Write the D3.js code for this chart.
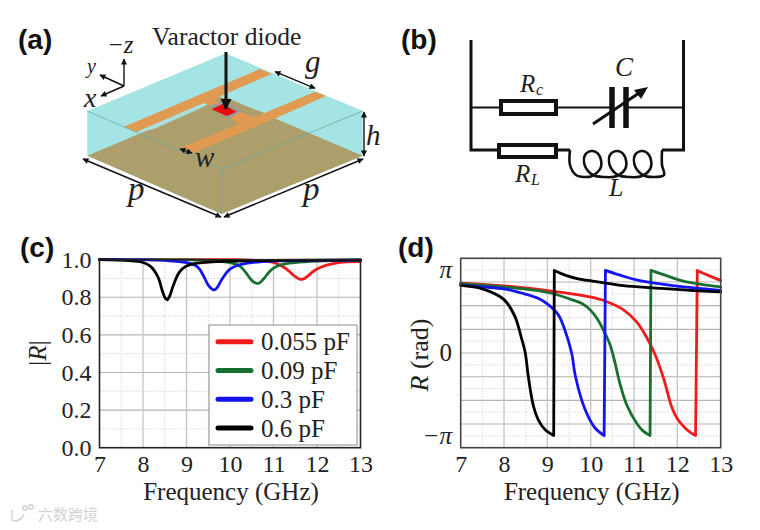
<!DOCTYPE html>
<html><head><meta charset="utf-8">
<script src="https://cdn.jsdelivr.net/npm/d3@7"></script>
<style>html,body{margin:0;padding:0;background:#fff}svg{display:block}
text{font-family:"Liberation Serif",serif;fill:#222}
.plabel{font-family:"Liberation Sans",sans-serif;font-weight:bold;font-size:28px;fill:#111}
.it{font-style:italic}</style></head><body><svg id="c" width="760" height="530"></svg>
<script>
// ---- data ----
const legendLabels = ["0.055 pF","0.09 pF","0.3 pF","0.6 pF"];
const seriesColors = ["#f01c1c","#17702f","#1414f0","#000000"];
const xTicks = [7,8,9,10,11,12,13];
const magTicks = [0,0.2,0.4,0.6,0.8,1];
const redFreqC   = [7,10,10.5,11,11.2,11.3,11.4,11.5,11.6,11.65,11.7,11.8,11.9,12,12.2,12.5,13];
const redMag     = [1,1,.997,.985,.965,.95,.93,.91,.897,.896,.899,.915,.935,.95,.97,.985,.99];
const greenFreqC = [7,9,9.5,10,10.2,10.3,10.4,10.5,10.6,10.65,10.7,10.8,10.9,11,11.2,11.5,12,13];
const greenMag   = [1,.999,.996,.985,.97,.95,.92,.89,.875,.874,.88,.905,.935,.955,.975,.985,.993,.998];
const blueFreqC  = [7,8,8.5,9,9.2,9.3,9.4,9.5,9.6,9.65,9.7,9.8,9.9,10,10.2,10.5,11,13];
const blueMag    = [1,.999,.996,.985,.97,.95,.91,.865,.842,.84,.85,.89,.925,.95,.972,.985,.993,.998];
const blackFreqC = [7,7.5,7.8,8,8.15,8.25,8.35,8.45,8.5,8.55,8.6,8.7,8.8,8.9,9,9.2,9.5,10,11,13];
const blackMag   = [1,.998,.993,.985,.968,.945,.905,.83,.80,.786,.80,.865,.92,.95,.966,.98,.987,.992,.996,.999];
const redFreqD   = [7,8,9.02,9.98,10.36,10.75,11.05,11.28,11.48,11.68,11.87,12,12.15,12.3,12.42,12.46,12.7,13];
const redPhase   = [2.66,2.55,2.37,2.13,1.96,1.65,1.2,.63,-.04,-.95,-2.05,-2.5,-2.8,-3.02,-3.14,3.14,2.96,2.76];
const greenFreqD = [7,8,9.02,9.56,9.8,10,10.15,10.3,10.45,10.55,10.68,10.83,11.06,11.2,11.37,11.39,11.68,12.14,13];
const greenPhase = [2.64,2.51,2.3,2.03,1.88,1.62,1.3,.85,.3,-.3,-1.2,-1.97,-2.67,-2.95,-3.14,3.14,2.98,2.73,2.51];
const blueFreqD  = [7,7.5,8,8.4,8.8,9.02,9.25,9.4,9.56,9.64,9.79,9.94,10.1,10.31,10.34,10.75,11.13,11.9,13];
const bluePhase  = [2.58,2.51,2.44,2.28,2.07,1.84,1.46,.89,0,-.83,-1.78,-2.41,-2.85,-3.14,3.14,2.92,2.75,2.56,2.38];
const blackFreqD = [7,7.5,8,8.25,8.4,8.49,8.56,8.68,8.79,8.95,9.146,9.16,9.48,9.71,9.98,10.75,11.52,12.3,13];
const blackPhase = [2.57,2.44,2.03,1.39,.58,0,-.89,-2.03,-2.54,-2.92,-3.14,3.14,2.92,2.82,2.75,2.56,2.47,2.38,2.32];

const svg = d3.select("#c");
const defs = svg.append("defs");
defs.append("marker").attr("id","ah").attr("viewBox","0 0 10 10").attr("refX",9).attr("refY",5)
  .attr("markerWidth",7).attr("markerHeight",6).attr("markerUnits","userSpaceOnUse")
  .attr("orient","auto-start-reverse").append("path").attr("d","M0,0L10,5L0,10Z").attr("fill","#111");
defs.append("marker").attr("id","ahBig").attr("viewBox","0 0 10 10").attr("refX",9).attr("refY",5)
  .attr("markerWidth",11).attr("markerHeight",11).attr("markerUnits","userSpaceOnUse")
  .attr("orient","auto").append("path").attr("d","M0,0L10,5L0,10Z").attr("fill","#111");

// ---- chart panels ----
function panel(x0,x1,yTop,yBot,yScale,hMajor,hMinor,series){
  const x=d3.scaleLinear().domain([7,13]).range([x0,x1]);
  const g=svg.append("g");
  const vline=(v,c,w,dash)=>g.append("line").attr("x1",x(v)).attr("x2",x(v)).attr("y1",yTop).attr("y2",yBot)
     .attr("stroke",c).attr("stroke-width",w).attr("stroke-dasharray",dash||null);
  const hline=(v,c,w,dash)=>g.append("line").attr("x1",x0).attr("x2",x1).attr("y1",yScale(v)).attr("y2",yScale(v))
     .attr("stroke",c).attr("stroke-width",w).attr("stroke-dasharray",dash||null);
  hMinor.forEach(v=>hline(v,"#d8d8d8",1,"1.5 1.5"));
  d3.range(7.5,13,1).forEach(v=>vline(v,"#d8d8d8",1,"1.5 1.5"));
  hMajor.forEach(v=>hline(v,"#b5b5b5",1.1));
  d3.range(8,13,1).forEach(v=>vline(v,"#c4c4c4",1.3));
  const ax=d3.axisBottom(x).tickValues(xTicks).tickSize(0).tickFormat(d3.format("d"));
  const gx=g.append("g").attr("transform",`translate(0,${yBot})`).call(ax);
  gx.select(".domain").remove();
  gx.selectAll("text").attr("font-size",24).attr("dy",0).attr("y",24.5).attr("fill","#222");
  g.append("text").attr("x",(x0+x1)/2+1).attr("y",500).attr("text-anchor","middle").attr("font-size",25).text("Frequency (GHz)");
  const line=d3.line().x(d=>x(d[0])).y(d=>yScale(d[1])).curve(d3.curveCatmullRom.alpha(.5));
  // a phase wrap is drawn as a straight jump between two smooth runs
  const pathFor=s=>{
    const pts=d3.zip(s[0],s[1]);
    const i=pts.findIndex((p,k)=>k>0&&p[1]-pts[k-1][1]>3);
    if(i<0) return line(pts);
    return line(pts.slice(0,i))+"L"+line(pts.slice(i)).slice(1);
  };
  return {x,g,draw(){series.forEach((s,i)=>g.append("path").attr("d",pathFor(s))
      .attr("fill","none").attr("stroke",seriesColors[i]).attr("stroke-width",2.8).attr("stroke-linejoin","round").attr("stroke-linecap","round"));},
    frame(c){g.append("rect").attr("x",x0).attr("y",yTop).attr("width",x1-x0).attr("height",yBot-yTop).attr("fill","none").attr("stroke",c).attr("stroke-width",1.6);}};
}
// (c)
const yMag=d3.scaleLinear().domain([0,1]).range([447.7,259.7]);
const pc=panel(99.5,360.5,259.7,447.7,yMag,[.2,.4,.6,.8],[.1,.3,.5,.7,.9],
  [[redFreqC,redMag],[greenFreqC,greenMag],[blueFreqC,blueMag],[blackFreqC,blackMag]]);
pc.draw(); pc.frame("#222");
const axL=d3.axisLeft(yMag).tickValues(magTicks).tickSize(0).tickFormat(d3.format(".1f"));
const gL=svg.append("g").attr("transform","translate(99.5,0)").call(axL);
gL.select(".domain").remove();
gL.selectAll("text").attr("font-size",24).attr("x",-8).attr("dy","0.32em").attr("fill","#222");
svg.append("text").attr("transform","translate(46,353) rotate(-90)").attr("text-anchor","middle").attr("font-size",25)
  .html('|<tspan class="it">R</tspan>|');
// legend
const lg=svg.append("g");
lg.append("rect").attr("x",209).attr("y",325).attr("width",148).attr("height",120).attr("fill","#fff").attr("stroke","#8a8a8a").attr("stroke-width",1);
const legY=d3.scalePoint().domain(legendLabels).range([341.7,428]);
legendLabels.forEach((t,i)=>{
  lg.append("line").attr("x1",218).attr("x2",251).attr("y1",legY(t)).attr("y2",legY(t)).attr("stroke",seriesColors[i]).attr("stroke-width",5).attr("stroke-linecap","round");
  lg.append("text").attr("x",261).attr("y",legY(t)+8.5).attr("font-size",25).text(t);
});
// (d)
const yPh=d3.scaleLinear().domain([-3.6,3.6]).range([447.7,258.3]);
const pd=panel(460.7,720.7,258.3,447.7,yPh,[-2.7,-1.8,-.9,0,.9,1.8,2.7],[-3.15,-2.25,-1.35,-.45,.45,1.35,2.25,3.15],
  [[redFreqD,redPhase],[greenFreqD,greenPhase],[blueFreqD,bluePhase],[blackFreqD,blackPhase]]);
pd.draw(); pd.frame("#444");
[[Math.PI,"π"],[0,"0"],[-Math.PI,"−π"]].forEach(([v,t])=>{
  svg.append("text").attr("x",452).attr("y",yPh(v)+8).attr("text-anchor","end").attr("font-size",25).attr("class",v?"it":null).text(t);
});
svg.append("text").attr("transform","translate(428,355) rotate(-90)").attr("text-anchor","middle").attr("font-size",26)
  .html('<tspan class="it">R</tspan> (rad)');

// ---- panel labels ----
[["(a)",18,49],["(b)",401,49],["(c)",20,257],["(d)",398,257]].forEach(([t,x,y])=>svg.append("text").attr("class","plabel").attr("x",x).attr("y",y).text(t));

// ---- (a) unit-cell sketch ----
const A=svg.append("g");
const poly=(pts,fill)=>A.append("polygon").attr("points",pts.map(p=>p.join(",")).join(" ")).attr("fill",fill);
const Z=(x,y)=>[x/3,y/3+10];
poly([Z(677,130),Z(1088,303),Z(1088,437),Z(665,612),Z(262,437),Z(262,303)],"#a5e4e4");
poly([Z(262,437),Z(677,262),Z(1088,437),Z(665,612)],"#ad9f6c");
poly([Z(372,350),Z(780,177),Z(815,192),Z(410,366)],"#e09a52");
poly([Z(410,366),Z(590,288),Z(605,293),Z(460,358)],"#a9dfdf");
poly([Z(600,272),Z(650,255),Z(780,322),Z(720,345),Z(700,330)],"#e09a52");
poly([Z(540,415),Z(715,342),Z(945,245),Z(978,258),Z(830,323),Z(580,428)],"#e09a52");
poly([Z(640,270),Z(660,262),Z(792,308),Z(760,322)],"#ad9f6c");
poly([Z(625,288),Z(668,275),Z(725,303),Z(685,327)],"#9a9a9a");
poly([Z(635,298),Z(668,282),Z(710,305),Z(680,318)],"#ea0c0c");
const seg=(x1,y1,x2,y2,w,both,big)=>A.append("line").attr("x1",x1).attr("y1",y1).attr("x2",x2).attr("y2",y2).attr("stroke","#111").attr("stroke-width",w||1.4)
  .attr("marker-end",big?"url(#ahBig)":"url(#ah)").attr("marker-start",both?"url(#ah)":null);
A.append("path").attr("d","M"+[Z(262,303),Z(665,478),Z(1088,303)].join("L")+"M"+Z(665,478)+"L"+Z(665,612)).attr("fill","none").attr("stroke","#6fa9a0").attr("stroke-width",.8);
seg(226,52,226,109,3,false,true);
seg(124,86,124,59);seg(124,86,100,75);seg(124,86,101,96);
seg(275,71.7,315,88.3,1.4,true);seg(364,112,364,156,1.4,true);
seg(83,159,221,217,1.5,true);seg(224,217,363,159,1.5,true);seg(180,149,192,153,1.2,true);
const lab=(t,x,y,s,it=true,an="start")=>svg.append("text").attr("x",x).attr("y",y).attr("font-size",s).attr("text-anchor",an).attr("class",it?"it":null).text(t);
lab("Varactor diode",152,45,25.5,false);
lab("−z",107,52.5,25);lab("y",87,73,20);lab("x",84,107,28);lab("g",305,72,31);
lab("h",366,145,29);lab("w",195,167,29);lab("p",128,200,33);lab("p",303,200,33);

// ---- (b) circuit ----
const B=svg.append("g").attr("fill","none").attr("stroke","#111");
const path=(d,w)=>B.append("path").attr("d",d).attr("stroke-width",w);
path("M471,40V150H500M683.5,40V150H662",3);
path("M471,107.5H500M557,107.5H612M626,107.5H683.5",2);
path("M557,150H570",3);
B.append("rect").attr("x",501).attr("y",101).attr("width",55).attr("height",13).attr("fill","#fff").attr("stroke-width",4);
B.append("rect").attr("x",499).attr("y",145).attr("width",57).attr("height",12).attr("fill","#fff").attr("stroke-width",4);
path("M612,87V128M626,87V128",5.5);
path("M593,124L642,91",3);
B.append("polygon").attr("points","648,87 634,90 641,99").attr("fill","#111").attr("stroke","none");
const coilCentres=[592,617,642];
const coilPts=[[570,150],[570,165],[576,175],[584,177]];
coilCentres.forEach(c=>coilPts.push([c,176],[c+9,167],[c+7,155],[c,151],[c-7,155],[c-7,166],[c+1,175],[c+12,177]));
coilPts.push([664,175],[662,165],[662,150]);
B.append("path").attr("d",d3.line().curve(d3.curveCatmullRom.alpha(.5))(coilPts)).attr("stroke-width",2.6);
lab("R",520,92,25);lab("c",536,95,16);lab("C",615,76,27);
lab("R",515,182,25);lab("L",531,185,16);lab("L",609,196,26);

// ---- watermark ----
svg.append("text").attr("x",38).attr("y",520).attr("font-size",15).style("font-family",'"Noto Sans CJK SC"').style("fill","#d2d2d2").text("六数跨境");
const wm=svg.append("g").attr("fill","none").attr("stroke","#d2d2d2").attr("stroke-width",1.4);
wm.append("path").attr("d","M12,510V520C16,522 22,520 24,514");
wm.append("circle").attr("cx",25).attr("cy",508).attr("r",2.2);
wm.append("circle").attr("cx",31).attr("cy",507).attr("r",2.2);
</script></body></html>
